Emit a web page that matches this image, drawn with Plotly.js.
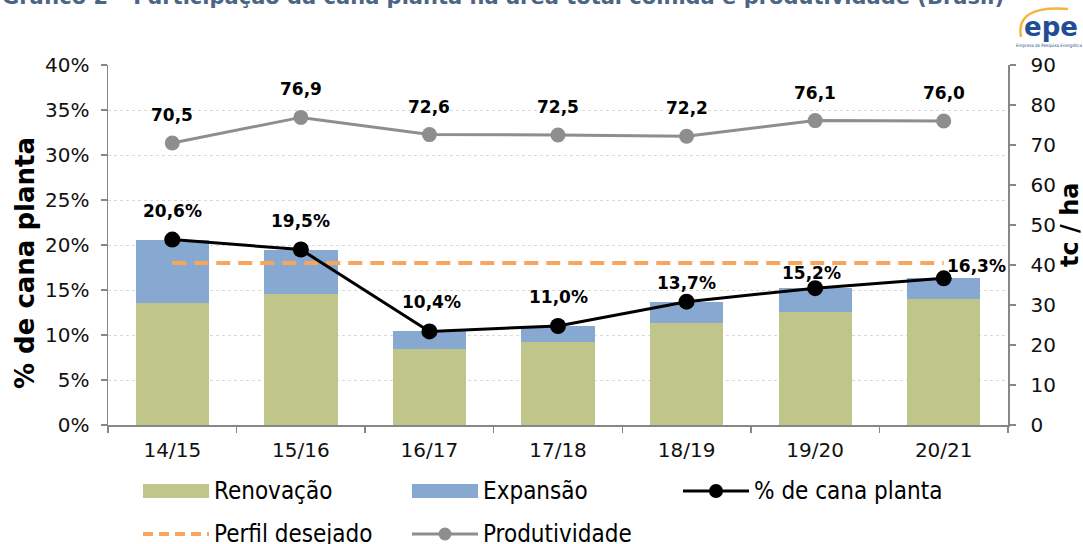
<!DOCTYPE html>
<html>
<head>
<meta charset="utf-8">
<script src="https://cdn.plot.ly/plotly-3.0.1.min.js"></script>
<style>html,body{margin:0;padding:0;background:#fff;}#chart{width:1083px;height:544px;}</style>
</head>
<body>
<div id="chart"></div>
<script>
// ---- data ----
var categories = ['14/15', '15/16', '16/17', '17/18', '18/19', '19/20', '20/21'];
var renovacao = [13.6, 14.6, 8.4, 9.2, 11.3, 12.6, 14.0];
var expansao = [7.0, 4.9, 2.0, 1.8, 2.4, 2.6, 2.3];
var canaPlanta = [20.6, 19.5, 10.4, 11.0, 13.7, 15.2, 16.3];
var perfilDesejado = [18, 18, 18, 18, 18, 18, 18];
var produtividade = [70.5, 76.9, 72.6, 72.5, 72.2, 76.1, 76.0];
var leftTicks = [0, 5, 10, 15, 20, 25, 30, 35, 40];
var rightTicks = [0, 10, 20, 30, 40, 50, 60, 70, 80, 90];
var titleText = 'Gráfico 2 – Participação da cana planta na área total colhida e produtividade (Brasil)';

// ---- styles ----
var cRen = '#c0c58a', cExp = '#87a9d1', cBlack = '#000000', cOrange = '#f9a55b', cGrey = '#8e8e8e';
var axisGrey = '#878787';
var tickFont = {family: 'DejaVu Sans, Verdana, sans-serif', size: 20, color: '#111'};
var labelFont = {family: 'DejaVu Sans, Verdana, sans-serif', size: 17, color: '#000', weight: 700};
var legendFont = {family: 'DejaVu Sans Condensed, Liberation Sans Narrow, DejaVu Sans', size: 24, color: '#000'};
// per-label offsets (px) for the % labels, as placed in the original
var pctShiftY = [29, 29, 29, 29, 19, 15, 12];
var pctShiftX = [0, 0, 2, 0, 0, -4, 1];
var pctAnchor = ['center', 'center', 'center', 'center', 'center', 'center', 'left'];

var M = {l: 108, r: 75, t: 65, b: 119};
var W = 1083, H = 544, PW = W - M.l - M.r, PH = H - M.t - M.b;
function px(x) { return (x - M.l) / PW; }
function py(y) { return (H - M.b - y) / PH; }

function fmt(v) { return v.toFixed(1).replace('.', ','); }

var traces = [
  {type: 'bar', name: 'Renovação', x: categories, y: renovacao, marker: {color: cRen}, width: 0.57, yaxis: 'y', showlegend: false, hoverinfo: 'skip'},
  {type: 'bar', name: 'Expansão', x: categories, y: expansao, marker: {color: cExp}, width: 0.57, yaxis: 'y', showlegend: false, hoverinfo: 'skip'},
  {type: 'scatter', mode: 'lines', name: 'Perfil desejado', x: categories, y: perfilDesejado, line: {color: cOrange, width: 4, dash: '14px,8px'}, yaxis: 'y', showlegend: false, hoverinfo: 'skip'},
  {type: 'scatter', mode: 'lines+markers', name: '% de cana planta', x: categories, y: canaPlanta, line: {color: cBlack, width: 3}, marker: {color: cBlack, size: 16}, yaxis: 'y', showlegend: false, hoverinfo: 'skip'},
  {type: 'scatter', mode: 'lines+markers', name: 'Produtividade', x: categories, y: produtividade, line: {color: cGrey, width: 3}, marker: {color: cGrey, size: 15}, yaxis: 'y2', showlegend: false, hoverinfo: 'skip'}
];

var annotations = [];
// data labels
categories.forEach(function (c, i) {
  annotations.push({x: c, y: canaPlanta[i], xref: 'x', yref: 'y', text: fmt(canaPlanta[i]) + '%', showarrow: false,
    yshift: pctShiftY[i], xshift: pctShiftX[i], xanchor: pctAnchor[i], yanchor: 'middle', font: labelFont});
  annotations.push({x: c, y: produtividade[i], xref: 'x', yref: 'y2', text: fmt(produtividade[i]), showarrow: false,
    yshift: 28, xanchor: 'center', yanchor: 'middle', font: labelFont});
});
// axis titles
annotations.push({xref: 'paper', yref: 'paper', x: px(25), y: py(263), text: '% de cana planta', textangle: -90, showarrow: false,
  font: {family: 'DejaVu Sans, Verdana, sans-serif', size: 26, color: '#000', weight: 700}, xanchor: 'center', yanchor: 'middle'});
annotations.push({xref: 'paper', yref: 'paper', x: px(1070), y: py(225), text: 'tc / ha', textangle: -90, showarrow: false,
  font: {family: 'DejaVu Sans, Verdana, sans-serif', size: 24, color: '#000', weight: 700}, xanchor: 'center', yanchor: 'middle'});
// cut-off title at top
annotations.push({xref: 'paper', yref: 'paper', x: px(1006), y: py(-3), text: titleText, showarrow: false, xanchor: 'right', yanchor: 'middle',
  font: {family: 'DejaVu Sans, Verdana, sans-serif', size: 21, color: '#4d6585', weight: 700}});
// logo
annotations.push({xref: 'paper', yref: 'paper', x: px(1051), y: py(27), text: 'epe', showarrow: false, xanchor: 'center', yanchor: 'middle',
  font: {family: 'DejaVu Sans, sans-serif', size: 26, color: '#1f4f92', weight: 600}});
annotations.push({xref: 'paper', yref: 'paper', x: px(1049), y: py(46), text: 'Empresa de Pesquisa Energética', showarrow: false, xanchor: 'center', yanchor: 'middle',
  font: {family: 'DejaVu Sans Condensed, DejaVu Sans', size: 4.5, color: '#1f4f92'}});

var shapes = [];
shapes.push({type: 'path', xref: 'paper', yref: 'paper', line: {color: '#f4b53f', width: 2.5},
  path: 'M' + px(1021) + ',' + py(37) + ' Q' + px(1015) + ',' + py(5) + ' ' + px(1068) + ',' + py(9)});

// legend (drawn with shapes + text)
var legendItems = [
  {name: 'Renovação', kind: 'rect', color: cRen, x: 143, y: 491},
  {name: 'Expansão', kind: 'rect', color: cExp, x: 412, y: 491},
  {name: '% de cana planta', kind: 'linemarker', color: cBlack, x: 683, y: 491, msize: 7},
  {name: 'Perfil desejado', kind: 'dash', color: cOrange, x: 143, y: 534},
  {name: 'Produtividade', kind: 'linemarker', color: cGrey, x: 412, y: 534, msize: 6.5}
];
var symW = 66;
legendItems.forEach(function (it) {
  if (it.kind === 'rect') {
    shapes.push({type: 'rect', xref: 'paper', yref: 'paper', x0: px(it.x), x1: px(it.x + symW), y0: py(it.y + 7), y1: py(it.y - 7),
      fillcolor: it.color, line: {width: 0}});
  } else if (it.kind === 'dash') {
    shapes.push({type: 'line', xref: 'paper', yref: 'paper', x0: px(it.x), x1: px(it.x + symW), y0: py(it.y), y1: py(it.y),
      line: {color: it.color, width: 4, dash: '10px,6px'}});
  } else {
    shapes.push({type: 'line', xref: 'paper', yref: 'paper', x0: px(it.x), x1: px(it.x + symW), y0: py(it.y), y1: py(it.y),
      line: {color: it.color, width: 3}});
    var cx = it.x + symW / 2;
    shapes.push({type: 'circle', xref: 'paper', yref: 'paper', x0: px(cx - it.msize), x1: px(cx + it.msize), y0: py(it.y + it.msize), y1: py(it.y - it.msize),
      fillcolor: it.color, line: {width: 0}});
  }
  annotations.push({xref: 'paper', yref: 'paper', x: px(it.x + symW + 3), y: py(it.y), text: it.name, showarrow: false,
    xanchor: 'left', yanchor: 'middle', font: legendFont});
});

var layout = {
  width: W, height: H,
  margin: M,
  paper_bgcolor: '#fff', plot_bgcolor: '#fff',
  barmode: 'stack',
  showlegend: false,
  separators: ',.',
  xaxis: {
    type: 'category', range: [-0.5, 6.5], showline: true, linecolor: axisGrey, linewidth: 1.5,
    ticks: 'outside', tickson: 'boundaries', ticklen: 6, tickcolor: axisGrey, tickwidth: 1.5,
    tickfont: tickFont, ticklabelstandoff: 6, showgrid: false, zeroline: false, fixedrange: true
  },
  yaxis: {
    range: [0, 40], tickvals: leftTicks, ticktext: leftTicks.map(function (v) { return v + '%'; }),
    showline: true, linecolor: axisGrey, linewidth: 1.5, ticks: 'outside', ticklen: 6, tickcolor: axisGrey, tickwidth: 1.5,
    tickfont: tickFont, ticklabelstandoff: 7, showgrid: true, gridcolor: '#d9d9d9', griddash: 'dot', gridwidth: 1, zeroline: false
  },
  yaxis2: {
    range: [0, 90], tickvals: rightTicks, overlaying: 'y', side: 'right',
    showline: true, linecolor: axisGrey, linewidth: 1.5, ticks: 'outside', ticklen: 6, tickcolor: axisGrey, tickwidth: 1.5,
    tickfont: tickFont, ticklabelstandoff: 11, showgrid: false, zeroline: false
  },
  annotations: annotations,
  shapes: shapes
};

Plotly.newPlot('chart', traces, layout, {displayModeBar: false, staticPlot: true});
</script>
</body>
</html>
